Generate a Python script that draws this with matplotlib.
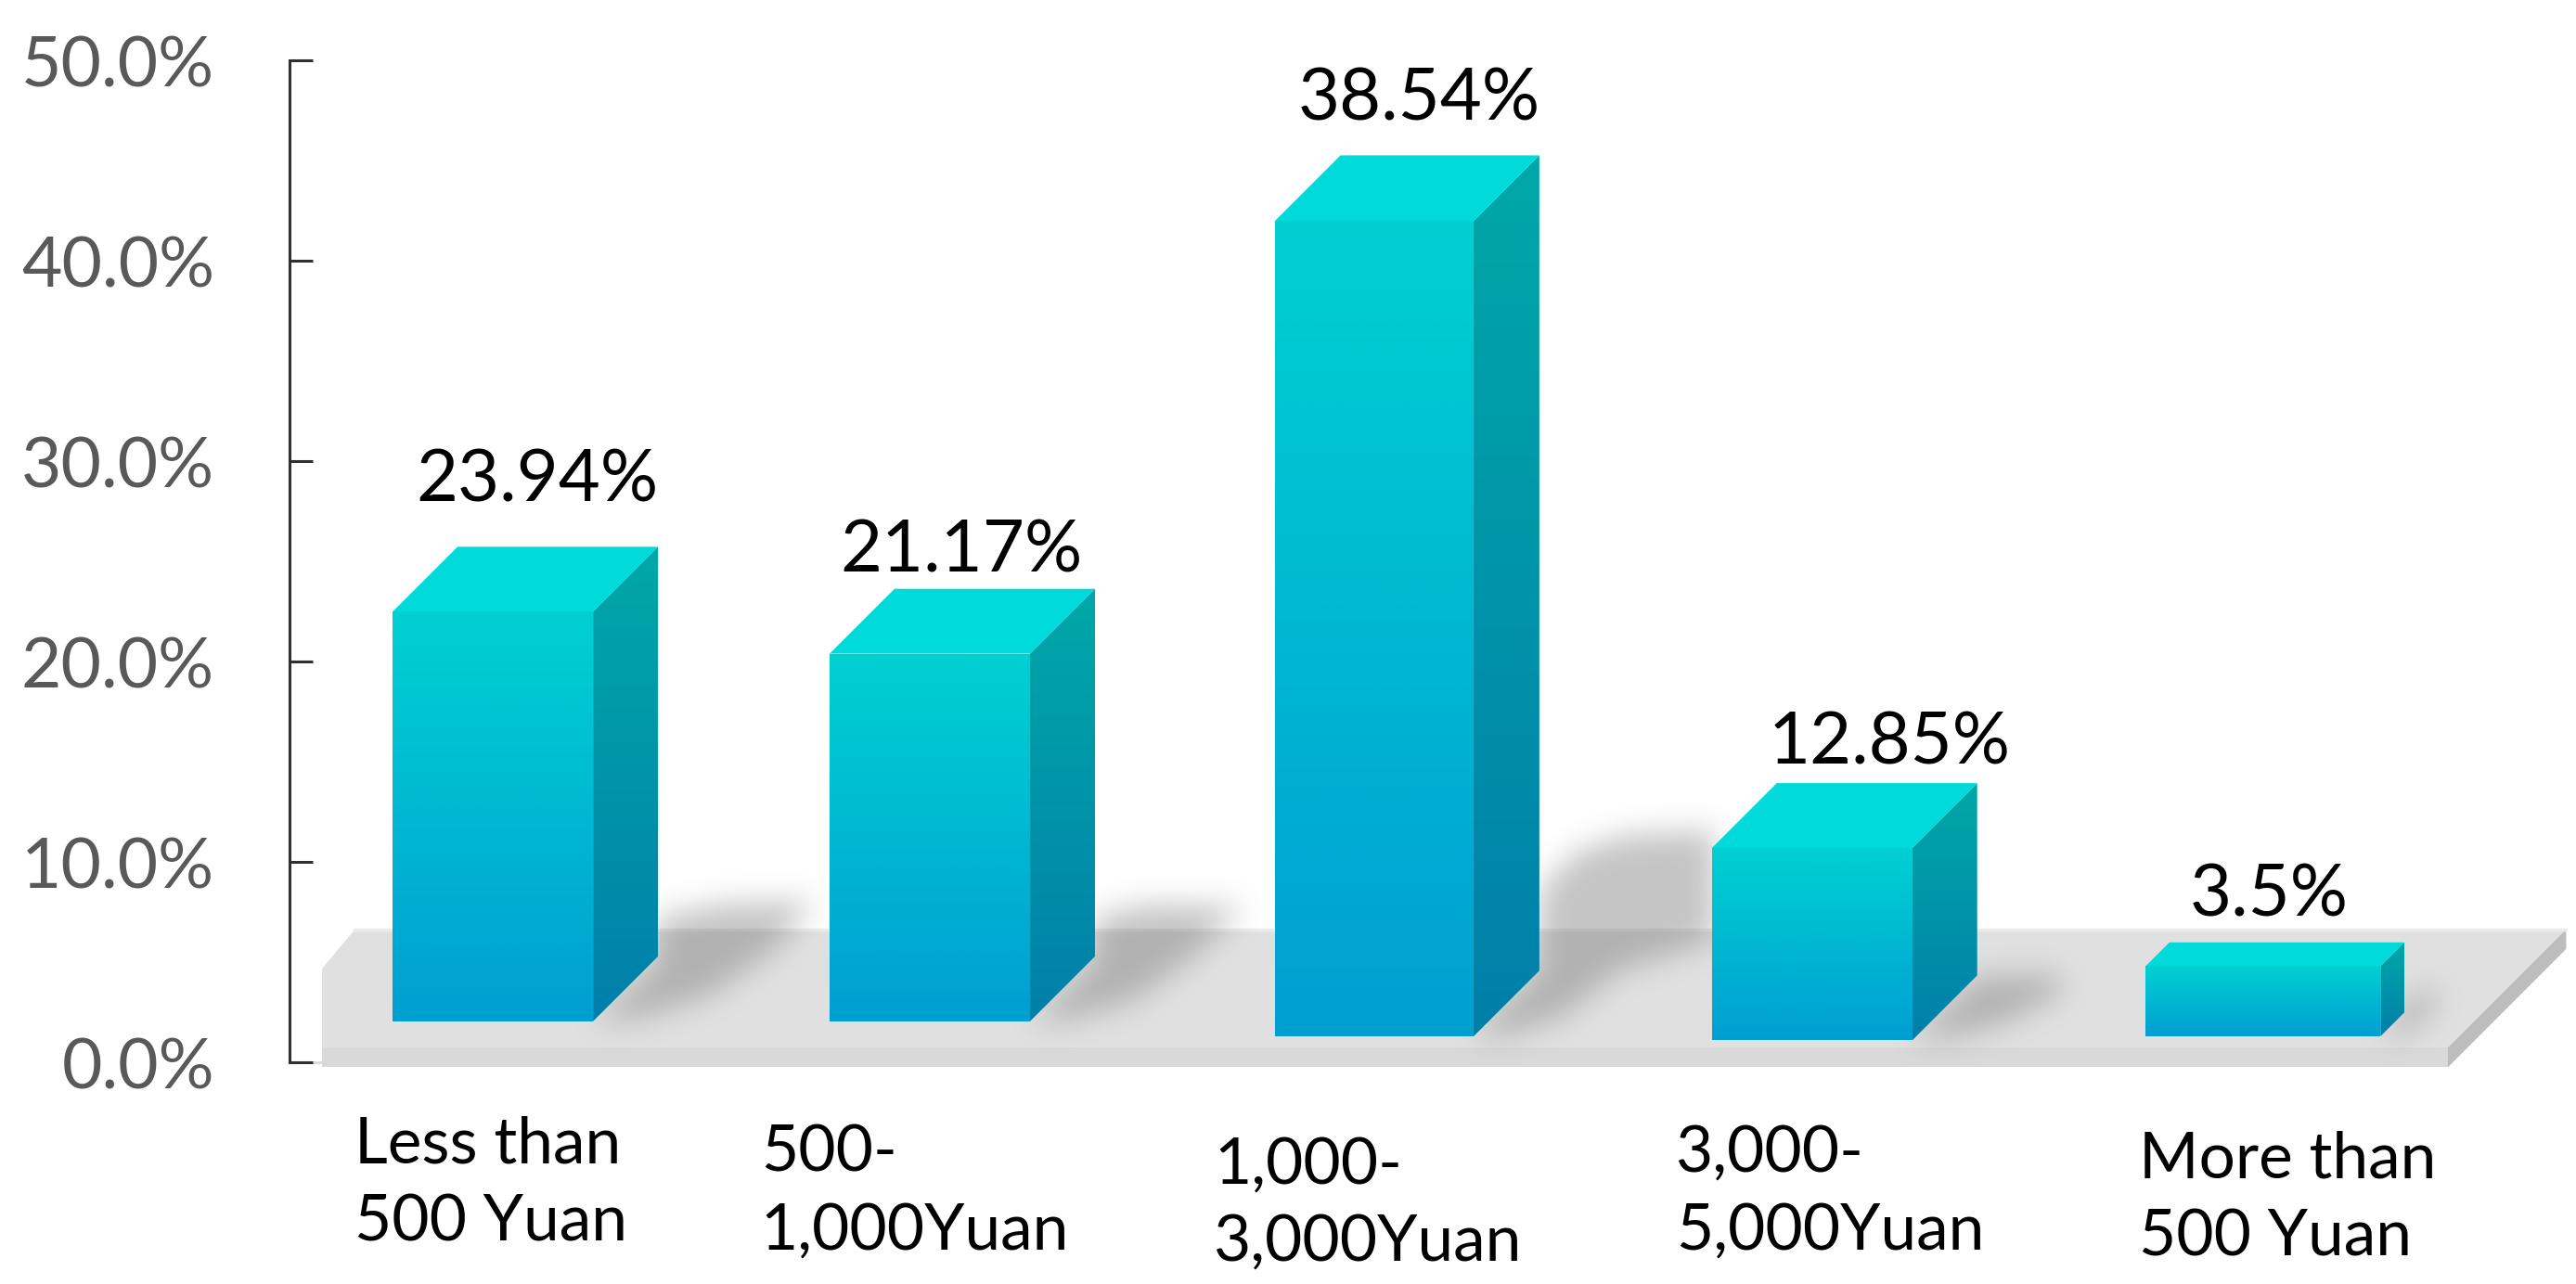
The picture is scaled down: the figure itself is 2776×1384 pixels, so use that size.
import numpy as np
import matplotlib
matplotlib.use("Agg")
import matplotlib.pyplot as plt
from matplotlib.patches import Polygon
from matplotlib.path import Path
from matplotlib.colors import to_rgb

#Data
categories = ["Less than\n500 Yuan", "500-\n1,000Yuan", "1,000-\n3,000Yuan",
	"3,000-\n5,000Yuan", "More than\n500 Yuan"]
printedValues = ["23.94%", "21.17%", "38.54%", "12.85%", "3.5%"]
#Where the front face of each bar sits against the y axis (percent)
barTop = [22.5, 20.4, 42.0, 10.7, 4.8]
barBase = [2.05, 2.05, 1.3, 1.1, 1.3]
yTicks = [0, 10, 20, 30, 40, 50]

#Layout, in units of a 1568 x 782 sheet
WIDTH, HEIGHT = 2776, 1384
SHEET_W, SHEET_H = 1568, 782
Y0, PER_PCT = 647.0, 12.2
barLeft = [239, 505, 776, 1042, 1306]
barWidth = [122, 122, 121, 122, 143]
barDepth = [39.5, 39.5, 40, 39.5, 14.5]
valueX = [327, 585, 864, 1150, 1381]
valueY = [293, 336, 61, 453, 546]
catX = [216, 463, 739, 1020, 1302]
catY = [721, 726, 733, 726, 730]

def py(y):
	return (Y0 - y) / PER_PCT

def gradientPoly(ax, pts, c0, c1, zorder):
	ys = [p[1] for p in pts]
	xs = [p[0] for p in pts]
	c0, c1 = np.array(to_rgb(c0)), np.array(to_rgb(c1))
	t = np.linspace(0, 1, 256)[:, None, None]
	img = c0 + (c1 - c0) * t
	im = ax.imshow(img, extent=(min(xs), max(xs), min(ys), max(ys)), origin="upper",
		aspect="auto", zorder=zorder, interpolation="bilinear")
	patch = Polygon(pts, closed=True, transform=ax.transData, fc="none", ec="none")
	ax.add_patch(patch)
	im.set_clip_path(patch)

def boxBlur(a, r):
	k = np.ones(2 * r + 1) / (2 * r + 1)
	a = np.apply_along_axis(lambda m: np.convolve(m, k, mode="same"), 0, a)
	a = np.apply_along_axis(lambda m: np.convolve(m, k, mode="same"), 1, a)
	return a

def shadowLayer(ax, xlim):
	polys = [
		[(361, 622), (400, 585), (400, 558), (440, 550), (495, 548), (470, 578), (430, 606), (385, 620)],
		[(627, 622), (666, 585), (666, 558), (700, 550), (755, 552), (730, 578), (690, 608), (650, 620)],
		[(897, 630), (937, 590), (937, 540), (960, 518), (990, 508), (1042, 505), (1042, 572), (985, 590), (950, 618), (915, 630)],
		[(1164, 632), (1203, 595), (1250, 593), (1254, 604), (1215, 624), (1180, 632)],
		[(1449, 630), (1463, 612), (1478, 600), (1482, 610), (1465, 628)],
	]
	xx, yy = np.meshgrid(np.arange(xlim[0], xlim[1]), np.arange(0, SHEET_H))
	grid = np.column_stack([xx.ravel(), yy.ravel()])
	mask = np.zeros(xx.shape)
	for p in polys:
		mask[Path(p).contains_points(grid).reshape(xx.shape)] = 1.0
	for _ in range(3):
		mask = boxBlur(mask, 8)
	rgba = np.zeros(mask.shape + (4,))
	rgba[..., :3] = 0.40
	rgba[..., 3] = mask * 0.38
	ax.imshow(rgba, extent=(xlim[0], xlim[1], py(SHEET_H), py(0)), origin="upper",
		aspect="auto", zorder=2, interpolation="bilinear")

plt.rcParams["font.family"] = ["Lato", "DejaVu Sans"]

fig = plt.figure(figsize=(WIDTH / 100, HEIGHT / 100), dpi=100, facecolor="white")
xlim = (176, SHEET_W)
ax = fig.add_axes([176 / SHEET_W, 0, 1 - 176 / SHEET_W, 1])

#Platform the bars stand on
ax.add_patch(Polygon([(196, py(590)), (216, py(566)), (1562, py(566)), (1490, py(638)), (196, py(638))],
	closed=True, fc="#E0E0E0", ec="none", zorder=1))
ax.add_patch(Polygon([(196, py(638)), (1490, py(638)), (1490, py(650)), (196, py(650))],
	closed=True, fc="#D9D9D9", ec="none", zorder=1))
ax.add_patch(Polygon([(1490, py(638)), (1562, py(566)), (1562, py(578)), (1490, py(650))],
	closed=True, fc="#BDBDBD", ec="none", zorder=1))
ax.plot([216, 1562], [py(566), py(566)], color="#EBEBEB", lw=2.5, zorder=1.5)

shadowLayer(ax, xlim)

#Bars, front then side then top face
for i in range(len(categories)):
	l, w, d = barLeft[i], barWidth[i], barDepth[i]
	r = l + w
	top, base = barTop[i], barBase[i]
	dy = d / PER_PCT
	gradientPoly(ax, [(l, base), (r, base), (r, top), (l, top)], "#00D0D2", "#009FD2", 3)
	gradientPoly(ax, [(r, base), (r + d, base + dy), (r + d, top + dy), (r, top)], "#00A8A8", "#007FAA", 3)
	ax.add_patch(Polygon([(l, top), (r, top), (r + d, top + dy), (l + d, top + dy)],
		closed=True, fc="#00DADA", ec="none", zorder=3))
	ax.text(valueX[i], py(valueY[i]), printedValues[i], ha="center", va="center",
		fontsize=56, color="black", zorder=5)
	ax.text(catX[i], py(catY[i]), categories[i], ha="left", va="center",
		fontsize=50, color="black", linespacing=1.4, zorder=5)

ax.set_xlim(*xlim)
ax.set_ylim(py(SHEET_H), py(0))
ax.patch.set_alpha(0)
for s in ["top", "right", "bottom"]:
	ax.spines[s].set_visible(False)
ax.spines["left"].set_bounds(0, 50)
ax.spines["left"].set_color("#303030")
ax.spines["left"].set_linewidth(2.2)
ax.plot([176, 196], [0, 0], color="#D9D9D9", lw=2, zorder=1)
ax.set_xticks([])
ax.set_yticks(yTicks)
ax.set_yticklabels(["%.1f%%" % t for t in yTicks], fontsize=54, color="#595959")
ax.tick_params(axis="y", direction="in", length=18, width=2.2, color="#303030", pad=58)

fig.savefig("out.png", dpi=100)
